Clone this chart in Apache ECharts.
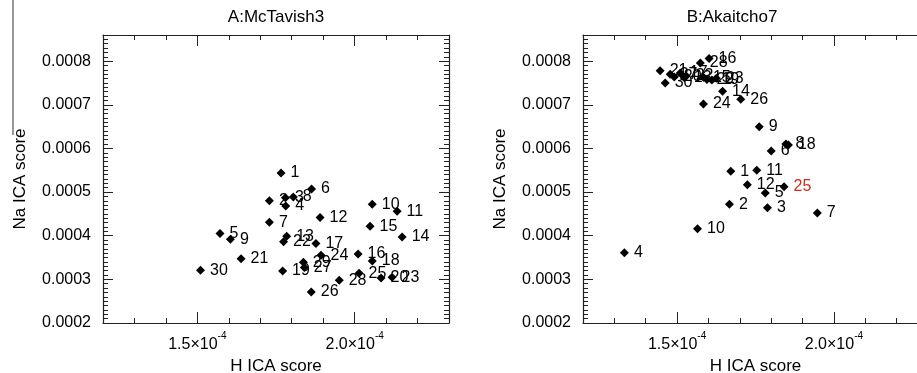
<!DOCTYPE html>
<html>
<head>
<meta charset="utf-8">
<script src="https://cdn.jsdelivr.net/npm/echarts@6/dist/echarts.min.js"></script>
<style>
  html, body { margin: 0; padding: 0; background: #fff; }
  #chart { width: 917px; height: 373px; }
</style>
</head>
<body>
<div id="chart"></div>
<script>
// panel A: McTavish3
const aLabels = ['1','2','3','4','5','6','7','8','9','10','11','12','13','14','15',
  '16','17','18','19','20','21','22','23','24','25','26','27','28','29','30'];
const aH = [1.766e-4, 1.729e-4, 1.780e-4, 1.781e-4, 1.572e-4, 1.863e-4, 1.729e-4, 1.805e-4, 1.605e-4, 2.056e-4,
  2.135e-4, 1.890e-4, 1.784e-4, 2.151e-4, 2.049e-4, 2.011e-4, 1.877e-4, 2.056e-4, 1.771e-4, 2.084e-4,
  1.639e-4, 1.774e-4, 2.119e-4, 1.893e-4, 2.014e-4, 1.862e-4, 1.840e-4, 1.951e-4, 1.837e-4, 1.510e-4];
const aNa = [0.000544, 0.000480, 0.000487, 0.000468, 0.000405, 0.000507, 0.000431, 0.000489, 0.000392, 0.000472,
  0.000456, 0.000442, 0.000399, 0.000397, 0.000422, 0.000358, 0.000382, 0.000342, 0.000319, 0.000303,
  0.000347, 0.000386, 0.000305, 0.000355, 0.000314, 0.000271, 0.000327, 0.000298, 0.000339, 0.000321];

// panel B: Akaitcho7
const bLabels = aLabels;
const bH = [1.671e-4, 1.667e-4, 1.788e-4, 1.332e-4, 1.781e-4, 1.800e-4, 1.947e-4, 1.847e-4, 1.762e-4, 1.565e-4,
  1.754e-4, 1.724e-4, 1.523e-4, 1.645e-4, 1.584e-4, 1.602e-4, 1.510e-4, 1.855e-4, 1.611e-4, 1.491e-4,
  1.446e-4, 1.529e-4, 1.625e-4, 1.584e-4, 1.841e-4, 1.703e-4, 1.478e-4, 1.574e-4, 1.595e-4, 1.462e-4];
const bNa = [0.000548, 0.000472, 0.000464, 0.000361, 0.000498, 0.000594, 0.000452, 0.000610, 0.000650, 0.000416,
  0.000550, 0.000517, 0.000762, 0.000731, 0.000763, 0.000806, 0.000773, 0.000608, 0.000757, 0.000764,
  0.000778, 0.000766, 0.000761, 0.000702, 0.000512, 0.000713, 0.000770, 0.000796, 0.000758, 0.000750];
const bRed = ['25'];

const titles = ['A:McTavish3', 'B:Akaitcho7'];
const xMajor = [1.5e-4, 2.0e-4];
const xMin = 1.2e-4, xMax = 2.3e-4;
const yMin = 0.0002, yMax = 0.00086;

const FONT = 'Liberation Sans';
const INK = '#000';
const LINE = '#222';

const grids = [
  { left: 103, top: 35, width: 346, height: 288, outerBoundsMode: 'none' },
  { left: 583, top: 35, width: 345, height: 288, outerBoundsMode: 'none' }
];

const xAxes = [];
const yAxes = [];
grids.forEach((g, gi) => {
  const base = { type: 'value', gridIndex: gi, min: xMin, max: xMax, splitLine: { show: false } };
  ['bottom', 'top'].forEach(pos => {
    xAxes.push(Object.assign({}, base, {
      position: pos, interval: 1e-5,
      axisLine: { show: true, lineStyle: { color: LINE, width: 1.2 } },
      axisTick: { show: true, inside: true, length: 5, lineStyle: { color: LINE } },
      axisLabel: { show: false }
    }));
    xAxes.push(Object.assign({}, base, {
      position: pos,
      axisLine: { show: false },
      axisTick: { show: true, inside: true, length: 11, customValues: xMajor, lineStyle: { color: LINE } },
      axisLabel: {
        show: pos === 'bottom', customValues: xMajor, margin: 8,
        formatter: v => '{m|' + (v * 1e4).toFixed(1) + '×10}{s|-4}',
        rich: {
          m: { fontSize: 16, fontFamily: FONT, color: INK, verticalAlign: 'bottom', lineHeight: 22 },
          s: { fontSize: 10, fontFamily: FONT, color: INK, verticalAlign: 'top' }
        }
      },
      name: pos === 'bottom' ? 'H ICA score' : '',
      nameLocation: 'middle', nameGap: 27,
      nameTextStyle: { fontSize: 17, fontFamily: FONT, color: INK }
    }));
  });
  ['left', 'right'].forEach(pos => {
    yAxes.push({
      type: 'value', gridIndex: gi, position: pos, min: yMin, max: yMax, interval: 0.0001,
      splitLine: { show: false },
      axisLine: { show: true, lineStyle: { color: LINE, width: 1.2 } },
      axisTick: { show: true, inside: true, length: 10, lineStyle: { color: LINE } },
      minorTick: { show: true, splitNumber: 10, length: 5, lineStyle: { color: LINE } },
      axisLabel: {
        show: pos === 'left', margin: 12, showMaxLabel: false,
        formatter: v => v.toFixed(4),
        fontSize: 16, fontFamily: FONT, color: INK
      },
      name: pos === 'left' ? 'Na ICA score' : '',
      nameLocation: 'middle', nameGap: 74,
      nameTextStyle: { fontSize: 17, fontFamily: FONT, color: INK }
    });
  });
});

function buildData(labels, hs, nas, red) {
  return labels.map((lab, i) => {
    const d = { value: [hs[i], nas[i], lab] };
    if (red && red.indexOf(lab) >= 0) d.label = { color: '#d42a20' };
    return d;
  });
}

const labelStyle = {
  show: true, position: 'right', distance: 5, offset: [0, -6],
  formatter: p => p.value[2],
  fontSize: 16, fontFamily: FONT, color: INK
};

const series = [
  buildData(aLabels, aH, aNa, null),
  buildData(bLabels, bH, bNa, bRed)
].map((data, gi) => ({
  type: 'scatter',
  xAxisIndex: gi * 4 + 1,
  yAxisIndex: gi * 2,
  symbol: 'diamond',
  symbolSize: 9,
  itemStyle: { color: '#000', opacity: 1 },
  label: labelStyle,
  labelLayout: { hideOverlap: false },
  data: data,
  silent: true,
  animation: false
}));

const chart = echarts.init(document.getElementById('chart'), null, { renderer: 'canvas' });
chart.setOption({
  backgroundColor: '#fff',
  animation: false,
  grid: grids,
  xAxis: xAxes,
  yAxis: yAxes,
  series: series,
  graphic: [
    { type: 'text', x: 276, y: 17, style: { text: titles[0], fontSize: 17, fontFamily: FONT, fill: INK, textAlign: 'center', textVerticalAlign: 'middle' } },
    { type: 'text', x: 732, y: 17, style: { text: titles[1], fontSize: 17, fontFamily: FONT, fill: INK, textAlign: 'center', textVerticalAlign: 'middle' } },
    { type: 'line', shape: { x1: 13, y1: 0, x2: 13, y2: 135 }, style: { stroke: '#333', lineWidth: 1 } }
  ]
});
</script>
</body>
</html>
